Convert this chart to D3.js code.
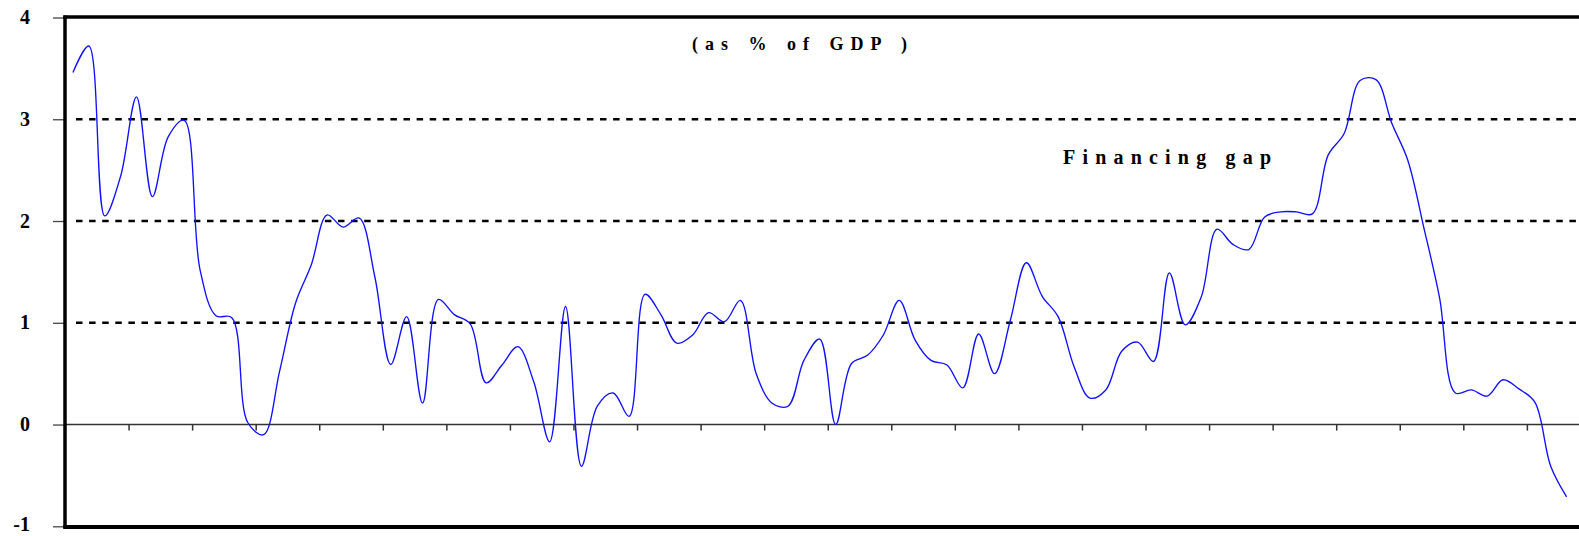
<!DOCTYPE html>
<html>
<head>
<meta charset="utf-8">
<script src="https://cdn.jsdelivr.net/npm/d3@7"></script>
<style>
  html, body { margin: 0; padding: 0; background: #fff; }
  svg { display: block; }
  text { font-family: "Liberation Serif", "Times New Roman", serif; font-weight: bold; fill: #000; }
</style>
</head>
<body>
<svg id="chart" width="1579" height="536"></svg>
<script>
// ---- data (quarterly values, % of GDP) ----
const financingGap = [
  3.46, 3.72, 2.05, 2.44, 3.22, 2.24, 2.83, 2.99, 1.52, 1.07,
  1.05, 0.02, -0.10, 0.52, 1.19, 1.57, 2.06, 1.94, 2.03, 1.45,
  0.59, 1.06, 0.21, 1.23, 1.08, 0.99, 0.41, 0.585, 0.765, 0.42,
  -0.17, 1.16, -0.41, 0.18, 0.31, 0.08, 1.28, 1.08, 0.80, 0.88,
  1.10, 1.01, 1.22, 0.50, 0.21, 0.18, 0.63, 0.84, 0.00, 0.60,
  0.68, 0.88, 1.22, 0.83, 0.63, 0.585, 0.36, 0.89, 0.50, 1.03,
  1.59, 1.26, 1.06, 0.57, 0.26, 0.34, 0.72, 0.81, 0.62, 1.49,
  0.98, 1.25, 1.92, 1.77, 1.72, 2.04, 2.09, 2.09, 2.07, 2.65,
  2.86, 3.38, 3.39, 2.96, 2.60, 1.945, 1.25, 0.31, 0.34, 0.28,
  0.44, 0.35, 0.22, -0.41, -0.71
];
const yTickValues = [-1, 0, 1, 2, 3, 4];
const gridValues = [1, 2, 3];
const periodsPerTick = 4;      // quarters per x-axis tick (years)
const totalPeriods = 96;       // category slots on the x axis
const titleText = "(as % of GDP )";
const seriesLabel = "Financing gap";

// ---- layout ----
const W = 1579, H = 536;
const plotLeft = 65, plotTop = 17.5, plotBottom = 526.3;
const slot = 15.89;

const svg = d3.select("#chart");

const x = d3.scaleLinear().domain([0, totalPeriods]).range([plotLeft, plotLeft + totalPeriods * slot]);
const y = d3.scaleLinear().domain([-1, 4]).range([plotBottom, plotTop]);

// dashed gridlines
svg.append("g").selectAll("line").data(gridValues).join("line")
  .attr("x1", 76).attr("x2", W)
  .attr("y1", d => y(d)).attr("y2", d => y(d))
  .attr("stroke", "#000").attr("stroke-width", 2.6)
  .attr("stroke-dasharray", "6.5,6.6");

// y axis ticks + labels
const yAxis = d3.axisLeft(y).tickValues(yTickValues).tickSize(12).tickPadding(23)
  .tickFormat(d => d < 0 ? "-" + Math.abs(d) : String(d));
const gy = svg.append("g").attr("transform", `translate(${plotLeft},0)`).call(yAxis);
gy.select(".domain").remove();
gy.selectAll(".tick line").attr("stroke", "#444").attr("stroke-width", 1.3);
gy.selectAll(".tick text")
  .attr("font-family", "Liberation Serif, Times New Roman, serif")
  .attr("font-weight", "bold").attr("font-size", 20).attr("fill", "#000")
  .attr("dy", d => d < 0 ? "0.22em" : "0.3em");

// x axis along zero line
const xTicks = d3.range(periodsPerTick, totalPeriods, periodsPerTick);
const xAxis = d3.axisBottom(x).tickValues(xTicks).tickSize(6).tickFormat("");
const gx = svg.append("g").attr("transform", `translate(0,${y(0)})`).call(xAxis);
gx.select(".domain").remove();
gx.selectAll(".tick line").attr("stroke", "#333").attr("stroke-width", 1.5);
svg.append("line")
  .attr("x1", plotLeft).attr("x2", W).attr("y1", y(0)).attr("y2", y(0))
  .attr("stroke", "#333").attr("stroke-width", 1.6);

// frame (left, top, bottom)
svg.append("line").attr("x1", plotLeft).attr("x2", plotLeft).attr("y1", 15.5).attr("y2", 528.5)
  .attr("stroke", "#000").attr("stroke-width", 3.5);
svg.append("line").attr("x1", plotLeft - 1.7).attr("x2", W).attr("y1", 17).attr("y2", 17)
  .attr("stroke", "#000").attr("stroke-width", 3.5);
svg.append("line").attr("x1", plotLeft - 1.7).attr("x2", W).attr("y1", 527).attr("y2", 527)
  .attr("stroke", "#000").attr("stroke-width", 4);

// series line
const line = d3.line()
  .x((d, i) => x(i + 0.5))
  .y(d => y(d))
  .curve(d3.curveCatmullRom.alpha(0.5));
svg.append("path").datum(financingGap)
  .attr("d", line)
  .attr("fill", "none").attr("stroke", "#1010ff").attr("stroke-width", 1.35);

// texts
svg.append("text").attr("x", 692).attr("y", 50)
  .attr("font-size", 18).attr("letter-spacing", "7px").attr("word-spacing", "2px")
  .text(titleText);
svg.append("text").attr("x", 1063).attr("y", 164)
  .attr("font-size", 20).attr("letter-spacing", "7.2px")
  .text(seriesLabel);
</script>
</body>
</html>
